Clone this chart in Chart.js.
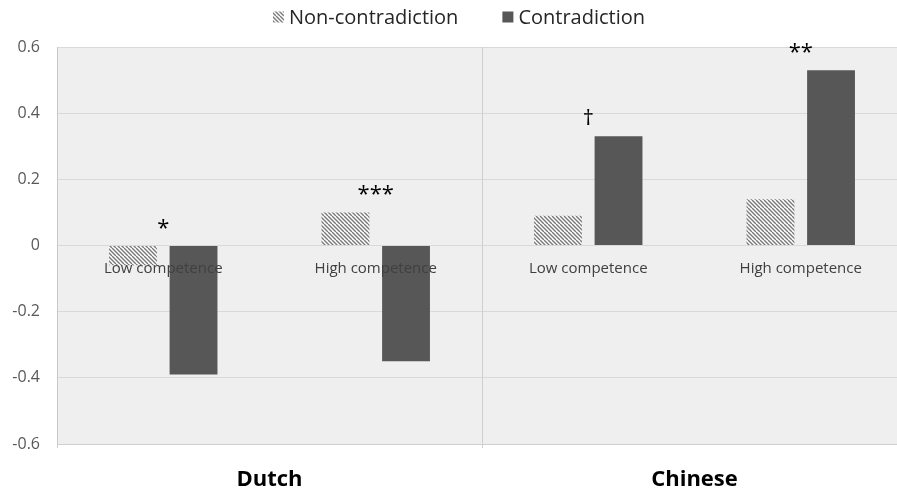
<!DOCTYPE html>
<html>
<head>
<meta charset="utf-8">
<script src="https://cdn.jsdelivr.net/npm/chart.js@4/dist/chart.umd.min.js"></script>
<style>
  html, body { margin: 0; padding: 0; background: #ffffff; overflow: hidden; }
  #wrap { position: relative; width: 912px; height: 492px; }
</style>
</head>
<body>
<div id="wrap"><canvas id="chart"></canvas></div>
<script>
// Conditions within each language group
const categories = ['Low competence', 'High competence', 'Low competence', 'High competence'];
// Language groups spanning two conditions each
const groups = ['Dutch', 'Chinese'];
const seriesNames = ['Non-contradiction', 'Contradiction'];
const nonContradiction = [-0.06, 0.10, 0.09, 0.14];
const contradiction = [-0.39, -0.35, 0.33, 0.53];
// Significance marks shown above each condition
const significance = ['*', '***', '\u2020', '**'];
const yTicks = [-0.6, -0.4, -0.2, 0, 0.2, 0.4, 0.6];

const FONT = '"Open Sans", "Noto Sans", sans-serif';

// Diagonal hatch fill for the non-contradiction bars
function makeHatch() {
  const T = 8, s = 4;
  const c = document.createElement('canvas');
  c.width = T; c.height = T;
  const g = c.getContext('2d');
  g.fillStyle = '#ffffff';
  g.fillRect(0, 0, T, T);
  g.strokeStyle = '#7a7a7a';
  g.lineWidth = 1.4;
  for (let k = -T; k <= T; k += s) {
    g.beginPath();
    g.moveTo(k, 0);
    g.lineTo(k + T, T);
    g.stroke();
  }
  const ctx = document.getElementById('chart').getContext('2d');
  return ctx.createPattern(c, 'repeat');
}
const hatch = makeHatch();
const dark = '#575757';

// Grey plot-area background
const plotBackground = {
  id: 'plotBackground',
  beforeDraw(chart) {
    const { ctx, chartArea: a } = chart;
    ctx.save();
    ctx.fillStyle = '#efefef';
    ctx.fillRect(a.left, a.top, a.right - a.left, a.bottom - a.top);
    ctx.restore();
  }
};

// Legend row across the top
const topLegend = {
  id: 'topLegend',
  afterDraw(chart) {
    const ctx = chart.ctx;
    ctx.save();
    ctx.font = '20px ' + FONT;
    ctx.textBaseline = 'middle';
    const box = 11, gapText = 5, gapItem = 44, cy = 17;
    const items = chart.data.datasets.map(d => ({
      text: d.label,
      fill: d.backgroundColor,
      w: box + gapText + ctx.measureText(d.label).width
    }));
    const total = items.reduce((s, it) => s + it.w, 0) + gapItem * (items.length - 1);
    let x = chart.width / 2 - total / 2 + 3;
    items.forEach(it => {
      ctx.fillStyle = it.fill;
      ctx.fillRect(x, cy - box / 2, box, box);
      ctx.fillStyle = '#262626';
      ctx.textAlign = 'left';
      ctx.fillText(it.text, x + box + gapText, cy + 1);
      x += it.w + gapItem;
    });
    ctx.restore();
  }
};

// Significance marks above the taller bar of each condition
const sigMarks = {
  id: 'sigMarks',
  afterDatasetsDraw(chart) {
    const ctx = chart.ctx;
    const xs = chart.scales.x, ys = chart.scales.y;
    ctx.save();
    ctx.font = '22px ' + FONT;
    ctx.fillStyle = '#000000';
    ctx.textAlign = 'center';
    ctx.textBaseline = 'alphabetic';
    significance.forEach((m, i) => {
      const top = Math.max(0, nonContradiction[i], contradiction[i]);
      ctx.fillText(m, xs.getPixelForValue(i), ys.getPixelForValue(top) - 11);
    });
    ctx.restore();
  }
};

new Chart(document.getElementById('chart'), {
  type: 'bar',
  data: {
    labels: categories,
    datasets: [
      { label: seriesNames[0], data: nonContradiction, backgroundColor: hatch, borderWidth: 0, xAxisID: 'x', yAxisID: 'y' },
      { label: seriesNames[1], data: contradiction, backgroundColor: dark, borderWidth: 0, xAxisID: 'x', yAxisID: 'y' }
    ]
  },
  options: {
    responsive: true,
    maintainAspectRatio: false,
    animation: false,
    layout: { padding: { top: 47, right: 5, left: 0, bottom: 0 } },
    datasets: { bar: { categoryPercentage: 0.57, barPercentage: 0.79 } },
    plugins: { legend: { display: false }, tooltip: { enabled: false } },
    scales: {
      y: {
        min: yTicks[0],
        max: yTicks[yTicks.length - 1],
        afterFit(s) { s.width = 57; },
        afterBuildTicks(s) { s.ticks = yTicks.map(v => ({ value: v })); },
        ticks: {
          padding: 17,
          color: '#595959',
          font: { family: FONT, size: 16 },
          callback: v => String(Math.round(v * 10) / 10)
        },
        grid: { color: '#d9d9d9', drawTicks: false },
        border: { color: '#c8c8c8' }
      },
      x: {
        type: 'category',
        position: { y: 0 },
        grid: { display: false, drawTicks: false },
        border: { display: false },
        ticks: {
          z: 1,
          padding: 14,
          color: '#404040',
          font: { family: FONT, size: 15 },
          maxRotation: 0,
          autoSkip: false
        }
      },
      x2: {
        type: 'category',
        labels: groups,
        position: 'bottom',
        offset: true,
        afterFit(s) { s.height = 48; },
        grid: { offset: true, color: '#cfcfcf', drawTicks: true, tickLength: 4 },
        border: { color: '#cfcfcf' },
        ticks: {
          padding: 19,
          color: '#000000',
          font: { family: FONT, size: 22, weight: 'bold' },
          maxRotation: 0
        }
      }
    }
  },
  plugins: [plotBackground, topLegend, sigMarks]
});
</script>
</body>
</html>
